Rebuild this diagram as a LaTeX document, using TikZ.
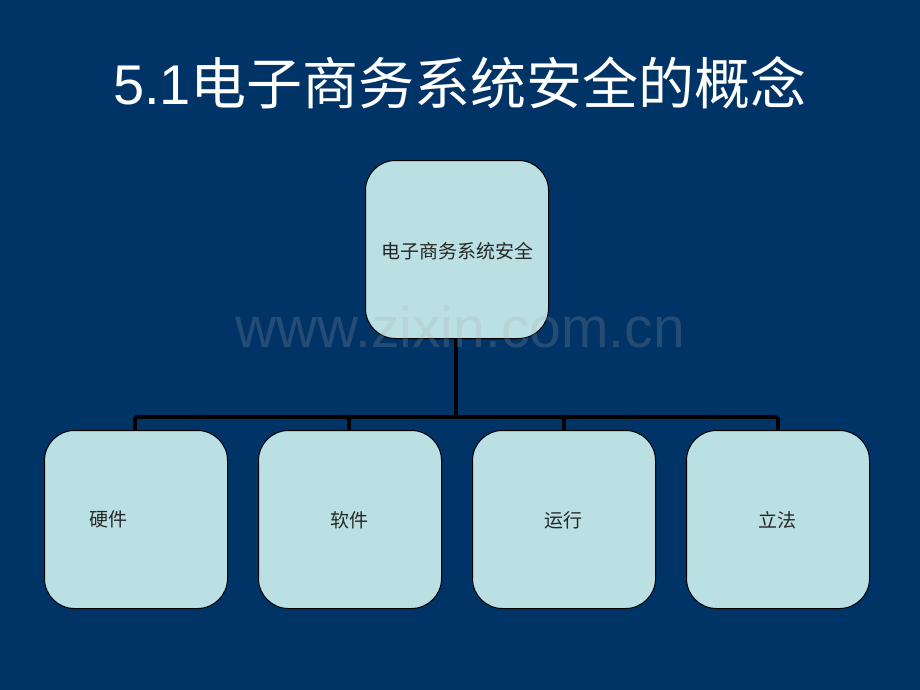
\documentclass[tikz,border=0pt]{standalone}
\usepackage{fontspec}
\setmainfont{Liberation Sans}
\newfontfamily\cjk{Noto Sans CJK SC}
\definecolor{bgblue}{RGB}{0,51,102}
\definecolor{boxfill}{RGB}{187,224,227}
\begin{document}
\begin{tikzpicture}[x=1pt,y=-1pt,
  orgbox/.style={draw=black,line width=1pt,fill=boxfill,rounded corners=30pt,
    minimum width=183pt,minimum height=178pt,inner sep=0pt,anchor=north west},
  lbl/.style={font=\cjk\fontsize{19}{22}\selectfont,text=black!85,inner sep=0pt},
  conn/.style={line width=4.5pt,draw=black}]
\fill[bgblue] (0,0) rectangle (920,690);
\useasboundingbox (0,0) rectangle (920,690);
\node[text=white,inner sep=0pt,anchor=base] (title) at (460,105)
  {\fontsize{56}{60}\selectfont 5.1{\cjk 电子商务系统安全的概念}};
\node[orgbox] (top) at (365,160) {};
\node[orgbox] (b1) at (44,430) {};
\node[orgbox] (b2) at (258,430) {};
\node[orgbox] (b3) at (472,430) {};
\node[orgbox] (b4) at (686,430) {};
\node[lbl] (t0) at (457,251) {电子商务系统安全};
\node[lbl] (t1) at (108,519) {硬件};
\node[lbl] (t2) at (349,520) {软件};
\node[lbl] (t3) at (563,520) {运行};
\node[lbl] (t4) at (777,520) {立法};
\coordinate (hub) at (456,417);
\coordinate (h1) at (135,417);
\coordinate (h2) at (349,417);
\coordinate (h3) at (564,417);
\coordinate (h4) at (778,417);
\draw[conn] (top.south -| hub) -- (hub);
\draw[conn] (h1) -- (h4);
\draw[conn] (h1) -- (b1.north -| h1);
\draw[conn] (h2) -- (b2.north -| h2);
\draw[conn] (h3) -- (b3.north -| h3);
\draw[conn] (h4) -- (b4.north -| h4);
\node[text=gray!70,opacity=0.22,inner sep=0pt,anchor=base] (wm) at (460,347)
  {\fontsize{57}{60}\selectfont www.zixin.com.cn};
\end{tikzpicture}
\end{document}
